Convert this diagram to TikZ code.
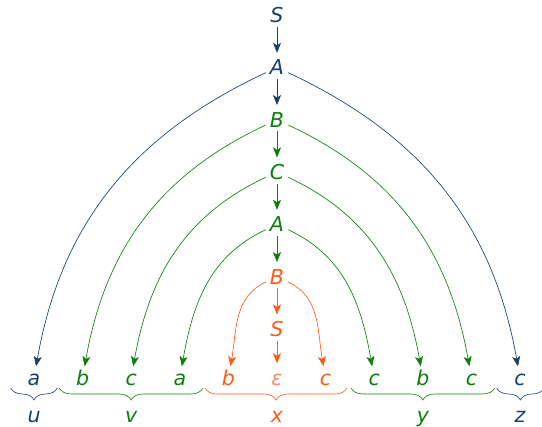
\documentclass[tikz,border=0pt]{standalone}
\usepackage{fontspec}
\usepackage{tikz}
\usetikzlibrary{arrows.meta,decorations.pathreplacing}
\setmainfont{DejaVu Sans}
\definecolor{trblue}{HTML}{173F67}
\definecolor{trgreen}{HTML}{0A800A}
\definecolor{trorange}{HTML}{FF5A14}

\begin{document}
\begin{tikzpicture}[x=1pt,y=-1pt,
    sym/.style={font=\fontsize{20.5}{24}\selectfont\itshape,
      text height=15pt,text depth=0pt,inner sep=4pt,anchor=base},
    part/.style={sym,inner sep=1pt},
    arr/.style={-{Stealth[length=10pt,width=8pt,inset=2.5pt]},line width=0.65pt},
    down/.style={arr,shorten >=3pt},
    lft/.style={out=205,in=80},
    rgt/.style={out=-25,in=100},
    brc/.style={decorate,decoration={brace,mirror,amplitude=12pt},line width=0.6pt}]
  \useasboundingbox (0,0) rectangle (542,427);

  % Spine of the derivation
  \node[sym,text=trblue] (S0) at (277,22.5) {S};
  \node[sym,text=trblue] (A1) at (277,75) {A};
  \node[sym,text=trgreen] (B1) at (277,127.3) {B};
  \node[sym,text=trgreen] (C1) at (277,179.6) {C};
  \node[sym,text=trgreen] (A2) at (277,232) {A};
  \node[sym,text=trorange] (B2) at (277,284.3) {B};
  \node[sym,text=trorange] (S2) at (277,336.6) {S};

  % Yield
  \node[sym,text=trblue] (a1) at (34,385.5) {a};
  \node[sym,text=trgreen] (b1) at (82.6,385.5) {b};
  \node[sym,text=trgreen] (c1) at (131.2,385.5) {c};
  \node[sym,text=trgreen] (a2) at (179.8,385.5) {a};
  \node[sym,text=trorange] (b2) at (228.4,385.5) {b};
  \node[sym,text=trorange!70] (eps) at (277,385.5) {ε};
  \node[sym,text=trorange] (c2) at (325.6,385.5) {c};
  \node[sym,text=trgreen] (c3) at (374.2,385.5) {c};
  \node[sym,text=trgreen] (b3) at (422.8,385.5) {b};
  \node[sym,text=trgreen] (c4) at (471.4,385.5) {c};
  \node[sym,text=trblue] (c5) at (520,385.5) {c};

  % Vertical steps
  \draw[down,trblue] (S0) -- (A1);
  \draw[down,trblue] (A1) -- (B1);
  \draw[down,trgreen] (B1) -- (C1);
  \draw[down,trgreen] (C1) -- (A2);
  \draw[down,trgreen] (A2) -- (B2);
  \draw[down,trorange] (B2) -- (S2);
  \draw[down,trorange] (S2) -- (eps);

  % Arcs to the yield
  \draw[arr,trblue] (A1) to[lft] (a1);
  \draw[arr,trblue] (A1) to[rgt] (c5);
  \draw[arr,trgreen] (B1) to[lft] (b1);
  \draw[arr,trgreen] (B1) to[rgt] (c4);
  \draw[arr,trgreen] (C1) to[lft] (c1);
  \draw[arr,trgreen] (C1) to[rgt] (b3);
  \draw[arr,trgreen] (A2) to[lft] (a2);
  \draw[arr,trgreen] (A2) to[rgt] (c3);
  \draw[arr,trorange] (B2) to[lft] (b2);
  \draw[arr,trorange] (B2) to[rgt] (c2);

  % Braces and the parts u v x y z
  \coordinate (m0) at (10.7,388);
  \coordinate (m1) at (57.3,388);
  \coordinate (m2) at (59.3,388);
  \coordinate (m3) at (203,388);
  \coordinate (m4) at (205,388);
  \coordinate (m5) at (347,388);
  \coordinate (m6) at (351,388);
  \coordinate (m7) at (494.7,388);
  \coordinate (m8) at (496.7,388);
  \coordinate (m9) at (544,388);
  \draw[brc,trblue] (m0) -- (m1);
  \draw[brc,trgreen] (m2) -- (m3);
  \draw[brc,trorange] (m4) -- (m5);
  \draw[brc,trgreen] (m6) -- (m7);
  \draw[brc,trblue] (m8) -- (m9);
  \node[part,text=trblue] (u) at (34,423) {u};
  \node[part,text=trgreen] (v) at (131.2,423) {v};
  \node[part,text=trorange] (x) at (277,423) {x};
  \node[part,text=trgreen] (y) at (422.9,423) {y};
  \node[part,text=trblue] (z) at (520,423) {z};
\end{tikzpicture}
\end{document}
